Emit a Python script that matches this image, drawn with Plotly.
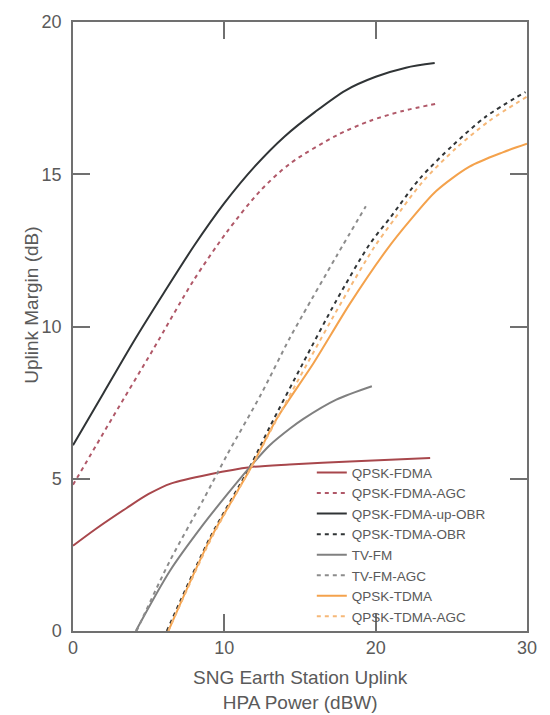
import plotly.graph_objects as go

# Data (x: HPA power dBW, y: uplink margin dB)
fdma_x = [0, 1.5, 3.55, 5.0, 6.5, 9.05, 11.7, 14.3, 18.3, 23.6]
fdma_y = [2.8, 3.35, 4.04, 4.5, 4.85, 5.15, 5.38, 5.47, 5.57, 5.68]

fdma_agc_x = [0, 2.66, 5.3, 7.95, 10.16, 12.36, 14.34, 17.4, 19.6, 21.8, 24.15]
fdma_agc_y = [4.8, 7.05, 9.25, 11.5, 13.1, 14.45, 15.35, 16.27, 16.75, 17.08, 17.33]

fdma_obr_x = [0, 2, 4, 6, 8, 10, 12, 14, 16, 18, 20, 22, 23.9]
fdma_obr_y = [6.1, 7.8, 9.5, 11.1, 12.65, 14.05, 15.25, 16.25, 17.05, 17.75, 18.2, 18.5, 18.65]

tdma_obr_x = [6.2, 9.05, 11.7, 13.0, 15.2, 17.4, 19.6, 21.0, 22.9, 25.1, 27.3, 29.9]
tdma_obr_y = [0, 3.06, 5.4, 6.7, 8.8, 10.85, 12.7, 13.6, 14.85, 15.95, 16.9, 17.7]

tvfm_x = [4.15, 6.41, 8.61, 10.16, 11.7, 13.0, 14.34, 15.2, 17.4, 19.75]
tvfm_y = [0, 1.98, 3.5, 4.47, 5.39, 6.1, 6.65, 6.96, 7.6, 8.04]

tvfm_agc_x = [4.2, 6.4, 8.6, 10.2, 12.4, 14.3, 15.2, 17.4, 19.35]
tvfm_agc_y = [0, 2.3, 4.3, 5.8, 7.75, 9.6, 10.4, 12.3, 13.95]

tdma_x = [6.3, 9.05, 11.8, 13.5, 15.9, 18.3, 20.7, 22.3, 24.0, 26.2, 28.4, 30.0]
tdma_y = [0, 3.0, 5.4, 7.0, 8.8, 10.75, 12.5, 13.5, 14.45, 15.25, 15.72, 16.0]

tdma_agc_x = [6.3, 9.1, 11.8, 13.3, 15.5, 17.8, 19.9, 21.2, 23.1, 25.3, 27.5, 30.0]
tdma_agc_y = [0, 3.0, 5.4, 6.8, 8.8, 10.85, 12.6, 13.5, 14.75, 15.85, 16.75, 17.55]

x_ticks = [0, 10, 20, 30]
y_ticks = [0, 5, 10, 15, 20]

x_title = "SNG Earth Station Uplink<br>HPA Power (dBW)"
y_title = "Uplink Margin (dB)"

series = [
    ("QPSK-FDMA", fdma_x, fdma_y, "#a8474c", "solid"),
    ("QPSK-FDMA-AGC", fdma_agc_x, fdma_agc_y, "#b05868", "4px,4px"),
    ("QPSK-FDMA-up-OBR", fdma_obr_x, fdma_obr_y, "#303436", "solid"),
    ("QPSK-TDMA-OBR", tdma_obr_x, tdma_obr_y, "#303436", "4px,4px"),
    ("TV-FM", tvfm_x, tvfm_y, "#808080", "solid"),
    ("TV-FM-AGC", tvfm_agc_x, tvfm_agc_y, "#8c8c8c", "4px,4px"),
    ("QPSK-TDMA", tdma_x, tdma_y, "#f4a24c", "solid"),
    ("QPSK-TDMA-AGC", tdma_agc_x, tdma_agc_y, "#f6b878", "4px,4px"),
]

fig = go.Figure()
for name, xs, ys, color, dash in series:
    fig.add_trace(go.Scatter(
        x=xs, y=ys, mode="lines", name=name,
        line=dict(color=color, width=2, dash=dash, shape="spline", smoothing=0.8),
    ))

font_family = "Liberation Sans, Arial, sans-serif"
text_color = "#5a5a5a"
axis_common = dict(
    showline=True, linecolor="#707070", linewidth=1.5, mirror="ticks",
    ticks="inside", ticklen=17, tickwidth=1.5, tickcolor="#707070",
    showgrid=False, zeroline=False,
    tickfont=dict(family=font_family, size=18, color=text_color),
)

fig.update_layout(
    width=550, height=715,
    margin=dict(l=73, r=23, t=15, b=84),
    paper_bgcolor="white", plot_bgcolor="white",
    font=dict(family=font_family, color=text_color),
    xaxis=dict(range=[0, 30], tickvals=x_ticks, **axis_common),
    yaxis=dict(range=[0, 20], tickvals=y_ticks, ticklabelstandoff=6, **axis_common),
    legend=dict(x=0.526, y=-0.002, xanchor="left", yanchor="bottom",
                bgcolor="rgba(255,255,255,0)", borderwidth=0,
                font=dict(family=font_family, size=13.5, color=text_color),
                tracegroupgap=0, itemwidth=30),
    showlegend=True,
    annotations=[
        dict(text=x_title, xref="paper", yref="paper", x=0.5, y=-0.0555,
             xanchor="center", yanchor="top", showarrow=False,
             font=dict(family=font_family, size=19, color=text_color)),
        dict(text=y_title, xref="paper", yref="paper", x=-0.0903, y=0.534,
             xanchor="center", yanchor="middle", textangle=-90, showarrow=False,
             font=dict(family=font_family, size=19, color=text_color)),
    ],
)

fig.write_html("out.html")
